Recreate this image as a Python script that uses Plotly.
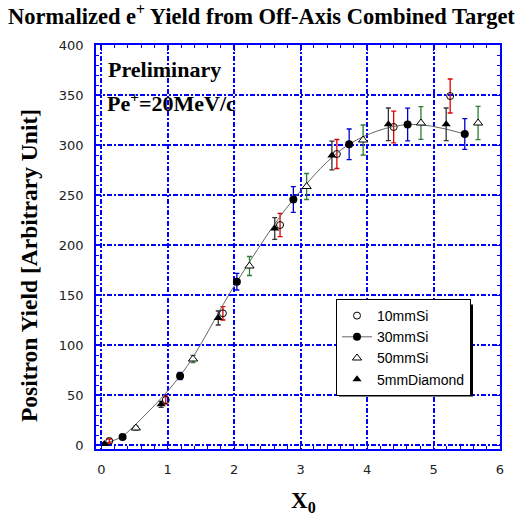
import plotly.graph_objects as go

# ---- data ----
si10_x = [0.12, 0.97, 1.83, 2.69, 3.545, 4.40, 5.25]
si10_y = [4, 45, 131.7, 220, 291, 318, 349]
si10_e = [2, 4, 6.7, 11.7, 14.5, 15.8, 17]

si30_x = [0.32, 1.185, 2.04, 2.89, 3.73, 4.61, 5.47]
si30_y = [8, 69, 163.3, 245.5, 300.7, 320.5, 311]
si30_e = [1.5, 3.5, 8.3, 12.8, 15.3, 16.3, 15.3]

si50_x = [0.52, 1.38, 2.23, 3.09, 3.94, 4.81, 5.67]
si50_y = [17, 86, 179, 258.5, 305, 322, 322]
si50_e = [2, 3.7, 9.5, 13, 15, 16.3, 16.7]

dia_x = [0.045, 0.90, 1.76, 2.61, 3.47, 4.32, 5.19]
dia_y = [1, 40.7, 127, 216.5, 289.5, 320.7, 320.7]
dia_e = [1, 3, 7, 10.8, 14.3, 16.3, 16.3]

fit_start_x = [0.0]
fit_start_y = [0.0]

x_ticks = [0, 1, 2, 3, 4, 5, 6]
y_ticks = [0, 50, 100, 150, 200, 250, 300, 350, 400]

# ---- layout geometry (page pixels; body margin removed in post_script) ----
W, H = 523, 520
L, T = 96, 45
PW, PH = 404, 404
R = W - L - PW
B = H - T - PH
PL, PB = L, T + PH


def px(X):
    return (X - PL) / PW


def py(Y):
    return (PB - Y) / PH


BLUE = "#0000ff"
LINE = "#666666"

fig = go.Figure()

# fit curve head from origin to first 30mmSi point
fig.add_trace(go.Scatter(
    x=fit_start_x + si30_x[:1], y=fit_start_y + si30_y[:1],
    mode="lines", line=dict(color=LINE, width=1), showlegend=False,
    hoverinfo="skip"))

fig.add_trace(go.Scatter(
    x=si10_x, y=si10_y, name="10mmSi", mode="markers",
    marker=dict(symbol="circle-open", size=7, color="black", line=dict(width=1)),
    error_y=dict(type="data", array=si10_e, color="#e00000", thickness=1.3, width=2.5)))

fig.add_trace(go.Scatter(
    x=si30_x, y=si30_y, name="30mmSi", mode="lines+markers",
    line=dict(color=LINE, width=1, shape="spline", smoothing=1.0),
    marker=dict(symbol="circle", size=8, color="black"),
    error_y=dict(type="data", array=si30_e, color="#0000cc", thickness=1.3, width=2.5)))

fig.add_trace(go.Scatter(
    x=si50_x, y=si50_y, name="50mmSi", mode="markers",
    marker=dict(symbol="triangle-up", size=8, color="white",
                line=dict(color="black", width=1)),
    error_y=dict(type="data", array=si50_e, color="#2e7d32", thickness=1.3, width=2.5)))

fig.add_trace(go.Scatter(
    x=dia_x, y=dia_y, name="5mmDiamond", mode="markers",
    marker=dict(symbol="triangle-up", size=8, color="black"),
    error_y=dict(type="data", array=dia_e, color="#333333", thickness=1.3, width=2.5)))

axis_common = dict(
    showline=True, linecolor=BLUE, linewidth=1.5, mirror="ticks",
    ticks="inside", tickcolor=BLUE, ticklen=6, tickwidth=1,
    showgrid=True, gridcolor=BLUE, gridwidth=1.5, griddash="5px,2px,2px,2px",
    zeroline=False, automargin=False,
    tickfont=dict(family="DejaVu Sans", size=13, color="#222222"),
)

fig.update_xaxes(range=[-0.08, 6.0], tickvals=x_ticks, ticktext=[str(v) for v in x_ticks],
                 ticklabelstandoff=8,
                 minor=dict(ticks="inside", ticklen=3, dtick=0.2, tick0=0, tickcolor=BLUE,
                            showgrid=False),
                 **axis_common)
fig.update_yaxes(range=[-4, 400], tickvals=y_ticks, ticktext=[str(v) for v in y_ticks],
                 ticklabelstandoff=8,
                 minor=dict(ticks="inside", ticklen=3, dtick=10, tick0=0, tickcolor=BLUE,
                            showgrid=False),
                 **axis_common)

serif = "Liberation Serif"
annotations = [
    dict(text="<b>Normalized e<sup>+</sup> Yield from Off-Axis Combined Target</b>",
         x=px(261), y=py(15), xanchor="center", yanchor="middle",
         font=dict(family=serif, size=22.5, color="black")),
    dict(text="<b>Positron Yield [Arbitrary Unit]</b>", textangle=-90,
         x=px(29), y=py(266), xanchor="center", yanchor="middle",
         font=dict(family=serif, size=23.5, color="black")),
    dict(text="<b>X<sub>0</sub></b>",
         x=px(303), y=py(502), xanchor="center", yanchor="middle",
         font=dict(family=serif, size=23, color="black")),
    dict(text="<b>Preliminary</b>",
         x=px(106), y=py(69), xanchor="left", yanchor="middle",
         font=dict(family=serif, size=22, color="black")),
    dict(text="<b>Pe<sup>+</sup>=20MeV/c</b>",
         x=px(105), y=py(102), xanchor="left", yanchor="middle",
         font=dict(family=serif, size=22, color="black")),
]
for a in annotations:
    a.update(xref="paper", yref="paper", showarrow=False)

# legend drop shadow (legend box approx. 336..470 x 301..393 on the page)
LEG_L, LEG_R, LEG_T, LEG_B = 336, 470, 301.5, 393.5
fig.add_shape(type="rect", xref="paper", yref="paper",
              x0=px(LEG_L + 3), x1=px(LEG_R + 3), y0=py(LEG_B + 3), y1=py(LEG_T + 3),
              fillcolor="black", line=dict(width=0), layer="above")

fig.update_layout(
    template="none",
    width=W, height=H, autosize=False,
    margin=dict(l=L, r=R, t=T, b=B, pad=0),
    paper_bgcolor="white", plot_bgcolor="white",
    showlegend=True,
    legend=dict(x=px(LEG_L), y=py((LEG_T + LEG_B) / 2), xanchor="left", yanchor="middle",
                bgcolor="white", bordercolor="black", borderwidth=1,
                font=dict(family="Liberation Sans", size=14, color="black"),
                traceorder="normal"),
    annotations=annotations,
)

fig.write_html("out.html", config={"displayModeBar": False},
               post_script="document.body.style.margin='0';")
